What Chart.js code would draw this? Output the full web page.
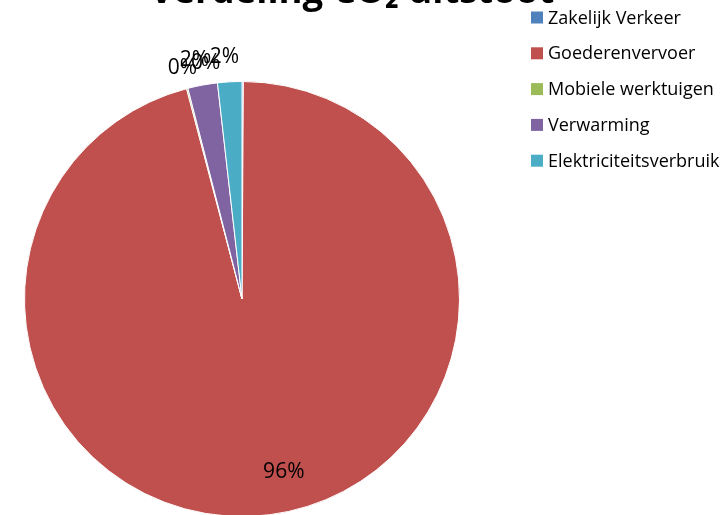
<!DOCTYPE html>
<html>
<head>
<meta charset="utf-8">
<script src="https://cdn.jsdelivr.net/npm/chart.js@4.4.1/dist/chart.umd.min.js"></script>
<style>
  html, body { margin: 0; padding: 0; overflow: hidden; background: #fff; }
  #wrap { width: 727px; height: 515px; overflow: hidden; }
</style>
</head>
<body>
<div id="wrap"><canvas id="chart" width="727" height="540"></canvas></div>
<script>
// data
const categories = ['Zakelijk Verkeer', 'Goederenvervoer', 'Mobiele werktuigen', 'Verwarming', 'Elektriciteitsverbruik'];
const shares = [0.1, 95.8, 0.1, 2.2, 1.8];
const sliceColors = ['#4F81BD', '#C0504D', '#9BBB59', '#8064A2', '#4BACC6'];
const titleText = 'Verdeling CO\u2082 uitstoot';

// percentage labels (Excel-achtig: kleine stukken buiten de taart)
const pctLabels = {
  id: 'pctLabels',
  afterDatasetsDraw(chart) {
    const ctx = chart.ctx;
    const arcs = chart.getDatasetMeta(0).data;
    const total = shares.reduce((a, b) => a + b, 0);
    // kleine verschuivingen zoals Excel de overlappende labels zet
    const nudge = [[-37, 5], [20, 0], [1, 2], [-4, -2], [-4, -2]];
    ctx.save();
    ctx.font = '21px "Open Sans"';
    ctx.fillStyle = '#000';
    ctx.textAlign = 'center';
    ctx.textBaseline = 'middle';
    arcs.forEach(function(arc, i) {
      const p = shares[i] / total * 100;
      const mid = (arc.startAngle + arc.endAngle) / 2;
      const r = p > 10 ? arc.outerRadius * 0.8 : arc.outerRadius + 23;
      const x = arc.x + Math.cos(mid) * r + nudge[i][0];
      const y = arc.y + Math.sin(mid) * r + nudge[i][1];
      ctx.fillText(Math.round(p) + '%', x, y);
    });
    ctx.restore();
  }
};

// titel + legenda zelf tekenen
const titleLegend = {
  id: 'titleLegend',
  afterDraw(chart) {
    const ctx = chart.ctx;
    ctx.save();
    ctx.fillStyle = '#000';
    ctx.font = 'bold 36.5px "Open Sans"';
    ctx.textAlign = 'center';
    ctx.textBaseline = 'alphabetic';
    ctx.fillText(titleText, 352, 3);

    ctx.font = '18px "Open Sans"';
    ctx.textAlign = 'left';
    ctx.textBaseline = 'middle';
    categories.forEach(function(c, i) {
      const y = 17.5 + i * 35.8;
      ctx.fillStyle = sliceColors[i];
      ctx.fillRect(531, y - 6, 12, 12);
      ctx.fillStyle = '#000';
      ctx.fillText(c, 548, y + 1);
    });
    ctx.restore();
  }
};

new Chart(document.getElementById('chart'), {
  type: 'pie',
  data: {
    labels: categories,
    datasets: [{
      data: shares,
      backgroundColor: sliceColors,
      borderColor: '#fff',
      borderWidth: 1
    }]
  },
  options: {
    responsive: false,
    animation: false,
    layout: { padding: { left: 24, right: 267, top: 81, bottom: 23 } },
    plugins: {
      legend: { display: false },
      title: { display: false },
      tooltip: { enabled: false }
    }
  },
  plugins: [pctLabels, titleLegend]
});
</script>
</body>
</html>
